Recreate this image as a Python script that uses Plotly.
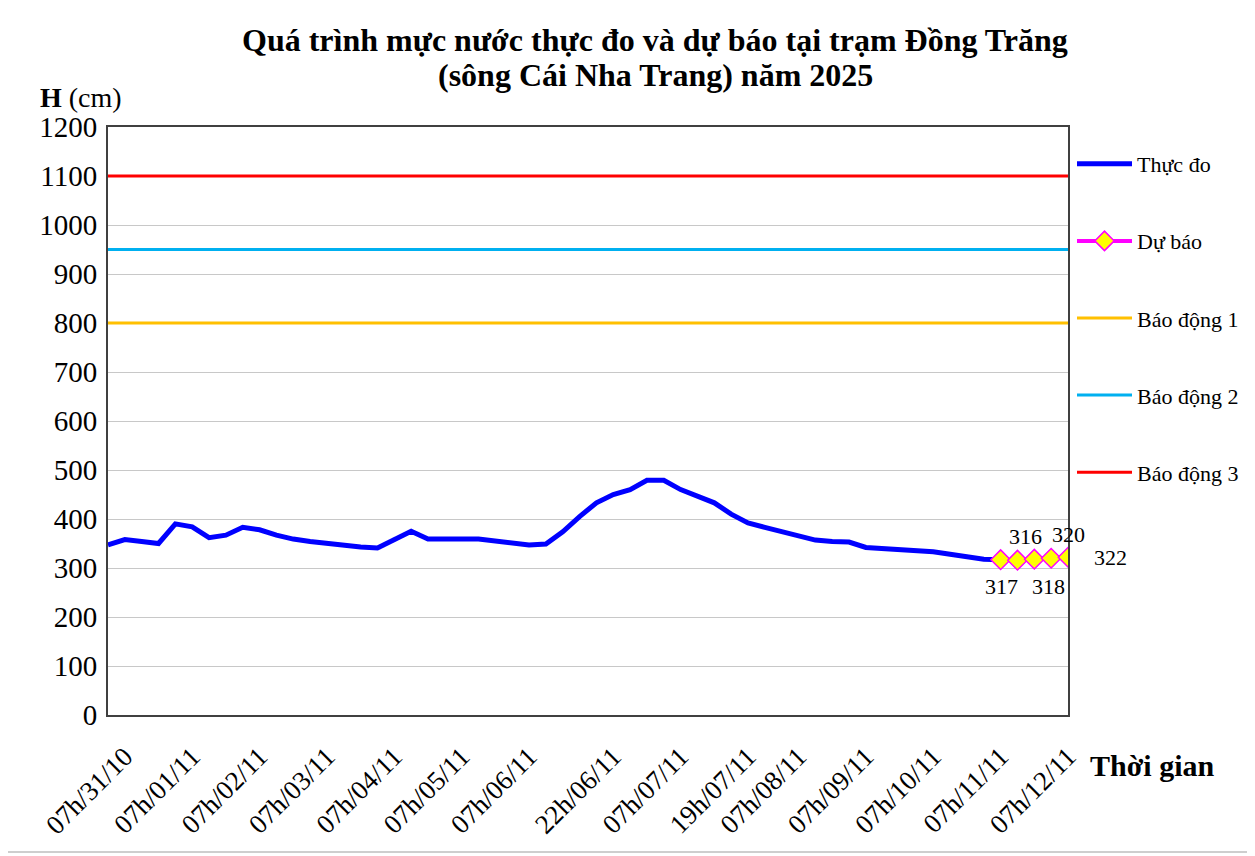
import plotly.graph_objects as go

# ---------------- data ----------------
categories = [
    "01h/31/10", "07h/31/10", "13h/31/10", "19h/31/10",
    "01h/01/11", "07h/01/11", "13h/01/11", "19h/01/11",
    "01h/02/11", "07h/02/11", "13h/02/11", "19h/02/11",
    "01h/03/11", "07h/03/11", "13h/03/11", "19h/03/11",
    "01h/04/11", "07h/04/11", "13h/04/11", "19h/04/11",
    "01h/05/11", "07h/05/11", "13h/05/11", "19h/05/11",
    "01h/06/11", "07h/06/11", "10h/06/11", "13h/06/11",
    "16h/06/11", "19h/06/11", "22h/06/11", "01h/07/11",
    "03h/07/11", "05h/07/11", "07h/07/11", "10h/07/11",
    "13h/07/11", "16h/07/11", "19h/07/11", "23h/07/11",
    "03h/08/11", "07h/08/11", "13h/08/11", "19h/08/11",
    "01h/09/11", "07h/09/11", "13h/09/11", "19h/09/11",
    "01h/10/11", "07h/10/11", "13h/10/11", "19h/10/11",
    "01h/11/11", "07h/11/11", "13h/11/11", "19h/11/11",
    "01h/12/11", "07h/12/11",
]

tick_labels = [
    "07h/31/10", "07h/01/11", "07h/02/11", "07h/03/11", "07h/04/11",
    "07h/05/11", "07h/06/11", "22h/06/11", "07h/07/11", "19h/07/11",
    "07h/08/11", "07h/09/11", "07h/10/11", "07h/11/11", "07h/12/11",
]

observed_values = [
    347, 358, 354, 350, 390, 384, 362, 367, 383, 378,
    367, 359, 354, 350, 346, 343, 341, 358, 375, 359,
    358, 359, 359, 355, 352, 347, 349, 374, 405, 433,
    450, 460, 479, 479, 460, 447, 433, 410, 392, 383,
    375, 365, 357, 354, 353, 342, 340, 338, 337, 333,
    328, 324, 318, 317,
]

forecast_categories = ["07h/11/11", "13h/11/11", "19h/11/11", "01h/12/11", "07h/12/11"]
forecast_values = [317, 316, 318, 320, 322]

alarm_names = ["Báo động 1", "Báo động 2", "Báo động 3"]
alarm_levels = [800, 950, 1100]
alarm_colors = ["#FFC000", "#00B0F0", "#FF0000"]

# ---------------- figure ----------------
# the page body has an 8px margin, so the figure is 8px smaller
W, H = 1247, 848
L, T = 100, 119
R, B = 187, 141
PW, PH = W - L - R, H - T - B

def px_x(px):   # reference-screenshot x -> paper
    return (px - 108) / PW

def px_y(py):   # reference-screenshot y -> paper
    return (715 - py) / PH

FONT = "Liberation Serif, Times New Roman, serif"

fig = go.Figure()

fig.add_trace(go.Scatter(
    x=categories[:len(observed_values)], y=observed_values,
    mode="lines", name="Thực đo",
    line=dict(color="#0000FF", width=5),
    legendgroup="g1",
))

fig.add_trace(go.Scatter(
    x=forecast_categories, y=forecast_values,
    mode="lines+markers", name="Dự báo",
    line=dict(color="#FF00FF", width=4),
    marker=dict(symbol="diamond", size=15, color="#FFFF00",
                line=dict(color="#FF00FF", width=1.5)),
    legendgroup="g2",
))

for i, (nm, lv, col) in enumerate(zip(alarm_names, alarm_levels, alarm_colors)):
    fig.add_trace(go.Scatter(
        x=categories, y=[lv] * len(categories),
        mode="lines", name=nm,
        line=dict(color=col, width=3),
        legendgroup="g%d" % (i + 3),
    ))

# data labels on forecast points
label_offsets = [(1, -27), (8, 24), (14, -27), (17, 24), (42, 0)]
for c, v, (dx, dy) in zip(forecast_categories, forecast_values, label_offsets):
    fig.add_annotation(
        x=c, y=v, text=str(v), showarrow=False,
        xshift=dx, yshift=dy,
        font=dict(family=FONT, size=22, color="#000000"),
    )

# title (two lines)
fig.add_annotation(
    xref="paper", yref="paper", x=px_x(655), y=px_y(40),
    text="<b>Quá trình mực nước thực đo và dự báo tại trạm Đồng Trăng</b>",
    showarrow=False, xanchor="center", yanchor="middle",
    font=dict(family=FONT, size=32, color="#000000"),
)
fig.add_annotation(
    xref="paper", yref="paper", x=px_x(655), y=px_y(75),
    text="<b>(sông Cái Nha Trang) năm 2025</b>",
    showarrow=False, xanchor="center", yanchor="middle",
    font=dict(family=FONT, size=32, color="#000000"),
)

# y-axis title
fig.add_annotation(
    xref="paper", yref="paper", x=px_x(38), y=px_y(98),
    text="<b>H</b> (cm)", showarrow=False, xanchor="left", yanchor="middle",
    font=dict(family=FONT, size=28, color="#000000"),
)

# x-axis title
fig.add_annotation(
    xref="paper", yref="paper", x=px_x(1088), y=px_y(765),
    text="<b>Thời gian</b>", showarrow=False, xanchor="left", yanchor="middle",
    font=dict(family=FONT, size=30, color="#000000"),
)

# outer chart border
fig.add_shape(
    type="rect", xref="paper", yref="paper",
    x0=px_x(7), x1=px_x(1248), y0=px_y(852), y1=px_y(3),
    line=dict(color="#BFBFBF", width=1.5), fillcolor="rgba(0,0,0,0)",
    layer="below",
)

fig.update_layout(
    width=W, height=H,
    margin=dict(l=L, r=R, t=T, b=B, autoexpand=False),
    paper_bgcolor="#FFFFFF", plot_bgcolor="#FFFFFF",
    font=dict(family=FONT, color="#000000"),
    showlegend=True,
    legend=dict(
        x=px_x(1072), y=px_y(143), xanchor="left", yanchor="top",
        font=dict(family=FONT, size=22, color="#000000"),
        tracegroupgap=45.5, itemwidth=55, bgcolor="rgba(0,0,0,0)",
    ),
)

fig.update_xaxes(
    type="category", categoryorder="array", categoryarray=categories,
    range=[0, len(categories) - 1],
    tickmode="array", tickvals=tick_labels, ticktext=tick_labels,
    tickangle=-45, ticks="", showgrid=False,
    tickfont=dict(family=FONT, size=27, color="#000000"),
    ticklabelstandoff=13,
    showline=True, linecolor="#404040", linewidth=2, mirror=True,
    zeroline=False,
)

fig.update_yaxes(
    range=[0, 1200], dtick=100, tick0=0,
    showgrid=True, gridcolor="#C8C8C8", gridwidth=1,
    tickfont=dict(family=FONT, size=29, color="#000000"),
    ticks="", ticklabelstandoff=3,
    showline=True, linecolor="#404040", linewidth=2, mirror=True,
    zeroline=False,
)

fig.write_html("out.html")
